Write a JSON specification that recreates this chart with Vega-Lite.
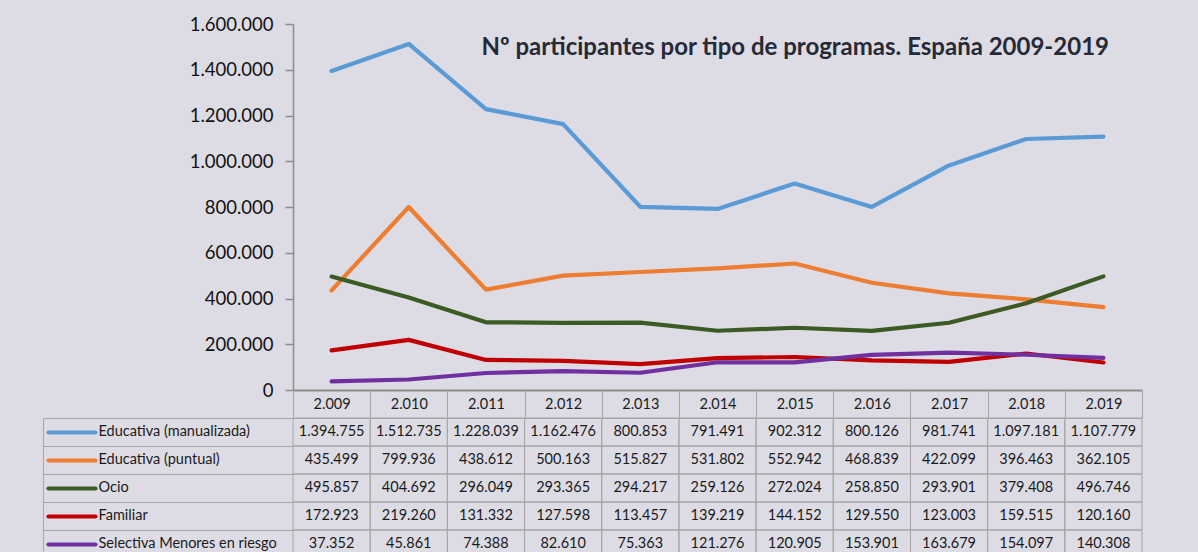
{
  "$schema": "https://vega.github.io/schema/vega-lite/v6.json",
  "background": "#dddce5",
  "padding": {"left": 42, "top": 15, "right": 56, "bottom": 0},
  "bounds": "flush",
  "spacing": 28,
  "config": {
    "locale": {"number": {"decimal": ",", "thousands": ".", "grouping": [3], "currency": ["", " €"]}},
    "view": {"stroke": null},
    "font": "Lato"
  },
  "datasets": {
    "d": [
      {"year": 2009, "serie": "Educativa (manualizada)", "value": 1394755},
      {"year": 2010, "serie": "Educativa (manualizada)", "value": 1512735},
      {"year": 2011, "serie": "Educativa (manualizada)", "value": 1228039},
      {"year": 2012, "serie": "Educativa (manualizada)", "value": 1162476},
      {"year": 2013, "serie": "Educativa (manualizada)", "value": 800853},
      {"year": 2014, "serie": "Educativa (manualizada)", "value": 791491},
      {"year": 2015, "serie": "Educativa (manualizada)", "value": 902312},
      {"year": 2016, "serie": "Educativa (manualizada)", "value": 800126},
      {"year": 2017, "serie": "Educativa (manualizada)", "value": 981741},
      {"year": 2018, "serie": "Educativa (manualizada)", "value": 1097181},
      {"year": 2019, "serie": "Educativa (manualizada)", "value": 1107779},
      {"year": 2009, "serie": "Educativa (puntual)", "value": 435499},
      {"year": 2010, "serie": "Educativa (puntual)", "value": 799936},
      {"year": 2011, "serie": "Educativa (puntual)", "value": 438612},
      {"year": 2012, "serie": "Educativa (puntual)", "value": 500163},
      {"year": 2013, "serie": "Educativa (puntual)", "value": 515827},
      {"year": 2014, "serie": "Educativa (puntual)", "value": 531802},
      {"year": 2015, "serie": "Educativa (puntual)", "value": 552942},
      {"year": 2016, "serie": "Educativa (puntual)", "value": 468839},
      {"year": 2017, "serie": "Educativa (puntual)", "value": 422099},
      {"year": 2018, "serie": "Educativa (puntual)", "value": 396463},
      {"year": 2019, "serie": "Educativa (puntual)", "value": 362105},
      {"year": 2009, "serie": "Ocio", "value": 495857},
      {"year": 2010, "serie": "Ocio", "value": 404692},
      {"year": 2011, "serie": "Ocio", "value": 296049},
      {"year": 2012, "serie": "Ocio", "value": 293365},
      {"year": 2013, "serie": "Ocio", "value": 294217},
      {"year": 2014, "serie": "Ocio", "value": 259126},
      {"year": 2015, "serie": "Ocio", "value": 272024},
      {"year": 2016, "serie": "Ocio", "value": 258850},
      {"year": 2017, "serie": "Ocio", "value": 293901},
      {"year": 2018, "serie": "Ocio", "value": 379408},
      {"year": 2019, "serie": "Ocio", "value": 496746},
      {"year": 2009, "serie": "Familiar", "value": 172923},
      {"year": 2010, "serie": "Familiar", "value": 219260},
      {"year": 2011, "serie": "Familiar", "value": 131332},
      {"year": 2012, "serie": "Familiar", "value": 127598},
      {"year": 2013, "serie": "Familiar", "value": 113457},
      {"year": 2014, "serie": "Familiar", "value": 139219},
      {"year": 2015, "serie": "Familiar", "value": 144152},
      {"year": 2016, "serie": "Familiar", "value": 129550},
      {"year": 2017, "serie": "Familiar", "value": 123003},
      {"year": 2018, "serie": "Familiar", "value": 159515},
      {"year": 2019, "serie": "Familiar", "value": 120160},
      {"year": 2009, "serie": "Selectiva Menores en riesgo", "value": 37352},
      {"year": 2010, "serie": "Selectiva Menores en riesgo", "value": 45861},
      {"year": 2011, "serie": "Selectiva Menores en riesgo", "value": 74388},
      {"year": 2012, "serie": "Selectiva Menores en riesgo", "value": 82610},
      {"year": 2013, "serie": "Selectiva Menores en riesgo", "value": 75363},
      {"year": 2014, "serie": "Selectiva Menores en riesgo", "value": 121276},
      {"year": 2015, "serie": "Selectiva Menores en riesgo", "value": 120905},
      {"year": 2016, "serie": "Selectiva Menores en riesgo", "value": 153901},
      {"year": 2017, "serie": "Selectiva Menores en riesgo", "value": 163679},
      {"year": 2018, "serie": "Selectiva Menores en riesgo", "value": 154097},
      {"year": 2019, "serie": "Selectiva Menores en riesgo", "value": 140308}
    ]
  },
  "vconcat": [
    {
      "width": 849,
      "height": 366,
      "data": {"name": "d"},
      "title": {
        "text": "Nº participantes por tipo de programas. España 2009-2019",
        "orient": "top",
        "anchor": "end",
        "frame": "group",
        "baseline": "middle",
        "offset": -57,
        "dx": -33,
        "font": "Lato",
        "fontSize": 24,
        "fontWeight": "bold",
        "color": "#262a36"
      },
      "mark": {"type": "line", "strokeWidth": 4.2, "strokeCap": "round", "strokeJoin": "round"},
      "encoding": {
        "x": {
          "field": "year",
          "type": "ordinal",
          "scale": {"type": "point", "padding": 0.5},
          "axis": {"labels": false, "ticks": false, "title": null, "domainColor": "#8c8c8c", "domainWidth": 2, "grid": false}
        },
        "y": {
          "field": "value",
          "type": "quantitative",
          "scale": {"domain": [0, 1600000], "nice": false},
          "axis": {
            "title": null,
            "values": [0, 200000, 400000, 600000, 800000, 1000000, 1200000, 1400000, 1600000],
            "format": ",d",
            "grid": false,
            "domainColor": "#8c8c8c",
            "domainWidth": 1.5,
            "tickColor": "#8c8c8c",
            "tickWidth": 1.5,
            "tickSize": 8,
            "labelPadding": 12,
            "labelFont": "Lato",
            "labelFontSize": 18.5,
            "labelColor": "#111111"
          }
        },
        "color": {
          "field": "serie",
          "type": "nominal",
          "scale": {
            "domain": ["Educativa (manualizada)", "Educativa (puntual)", "Ocio", "Familiar", "Selectiva Menores en riesgo"],
            "range": ["#5b9bd5", "#ed7d31", "#3b5a24", "#c00000", "#7030a0"]
          },
          "legend": null
        },
        "order": {"field": "year", "type": "quantitative"}
      }
    },
    {
      "width": 849,
      "height": 140,
      "data": {"name": "d"},
      "encoding": {
        "x": {
          "field": "year",
          "type": "ordinal",
          "scale": {"type": "band", "paddingInner": 0, "paddingOuter": 0},
          "axis": {
            "orient": "top",
            "title": null,
            "domain": true,
            "domainColor": "#a6a6a6",
            "domainWidth": 1,
            "ticks": true,
            "tickBand": "extent",
            "tickSize": 28,
            "tickColor": "#a6a6a6",
            "tickWidth": 1,
            "labels": true,
            "labelAngle": 0,
            "labelPadding": -14,
            "labelBaseline": "middle",
            "labelFont": "Lato",
            "labelFontSize": 14.5,
            "labelColor": "#1a1a1a",
            "format": ",d",
            "formatType": "number",
            "grid": false
          }
        }
      },
      "layer": [
        {
          "mark": {"type": "rect", "filled": false, "stroke": "#a6a6a6", "strokeWidth": 1},
          "encoding": {
            "y": {
              "field": "serie",
              "type": "nominal",
              "scale": {"domain": ["Educativa (manualizada)", "Educativa (puntual)", "Ocio", "Familiar", "Selectiva Menores en riesgo"], "paddingInner": 0, "paddingOuter": 0},
              "axis": {
                "orient": "left",
                "title": null,
                "offset": 250,
                "domain": true,
                "domainColor": "#a6a6a6",
                "domainWidth": 1,
                "ticks": true,
                "tickBand": "extent",
                "tickSize": -250,
                "tickColor": "#a6a6a6",
                "tickWidth": 1,
                "labels": false,
                "grid": false
              }
            }
          }
        },
        {
          "mark": {"type": "text", "font": "Lato", "fontSize": 14.5, "color": "#1a1a1a"},
          "encoding": {
            "text": {"field": "value", "type": "quantitative", "format": ",d"},
            "y": {
              "field": "serie",
              "type": "nominal",
              "scale": {"domain": ["Educativa (manualizada)", "Educativa (puntual)", "Ocio", "Familiar", "Selectiva Menores en riesgo"], "paddingInner": 0, "paddingOuter": 0},
              "axis": {
                "orient": "left",
                "title": null,
                "offset": 198,
                "domain": false,
                "ticks": true,
                "tickBand": "center",
                "tickSize": 47,
                "tickWidth": 4.2,
                "tickCap": "round",
                "tickColor": {
                  "condition": [
                    {"test": "datum.value === 'Educativa (manualizada)'", "value": "#5b9bd5"},
                    {"test": "datum.value === 'Educativa (puntual)'", "value": "#ed7d31"},
                    {"test": "datum.value === 'Ocio'", "value": "#3b5a24"},
                    {"test": "datum.value === 'Familiar'", "value": "#c00000"}
                  ],
                  "value": "#7030a0"
                },
                "labels": true,
                "labelAlign": "left",
                "labelBaseline": "middle",
                "labelPadding": -50,
                "labelLimit": 400,
                "labelFont": "Lato",
                "labelFontSize": 14.5,
                "labelColor": "#1a1a1a",
                "grid": false
              }
            }
          }
        }
      ],
      "resolve": {"axis": {"y": "independent"}}
    }
  ]
}
